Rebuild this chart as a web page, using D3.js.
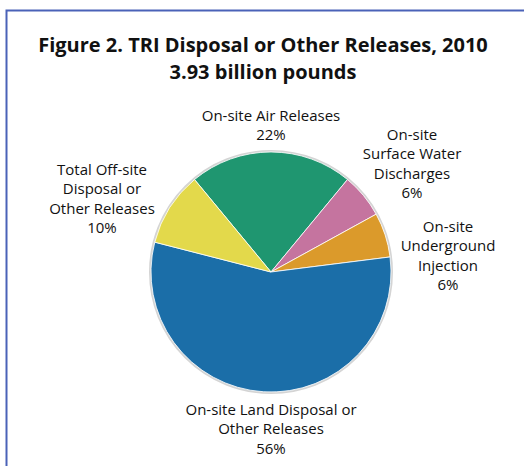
<!DOCTYPE html>
<html>
<head>
<meta charset="utf-8">
<script src="https://cdn.jsdelivr.net/npm/d3@7"></script>
<style>
  html, body { margin: 0; padding: 0; background: #fff; }
  svg { display: block; }
  text { font-family: "Open Sans", "Noto Sans", sans-serif; fill: #111; }
</style>
</head>
<body>
<svg id="chart" width="524" height="466"></svg>
<script>
// ---- data ----
const categories = [
  "On-site Air Releases",
  "On-site Surface Water Discharges",
  "On-site Underground Injection",
  "On-site Land Disposal or Other Releases",
  "Total Off-site Disposal or Other Releases"
];
const percents = [22, 6, 6, 56, 10];
const labelLines = [
  ["On-site Air Releases"],
  ["On-site", "Surface Water", "Discharges"],
  ["On-site", "Underground", "Injection"],
  ["On-site Land Disposal or", "Other Releases"],
  ["Total Off-site", "Disposal or", "Other Releases"]
];
const titleLines = ["Figure 2. TRI Disposal or Other Releases, 2010", "3.93 billion pounds"];

// ---- styling / layout ----
const colors = ["#1f9670", "#c5749f", "#db9a2b", "#1b6ea8", "#e3d94b"];
// label anchor (center x, baseline of first line) relative to pie center
const labelPos = [
  [0, -151], [141, -132], [177, -40], [0, 143], [-169, -97]
];
const lineH = 19.3;

const W = 524, H = 466;
const cx = 271, cy = 272, R = 120;
const svg = d3.select("#chart");

// frame
svg.append("path")
  .attr("d", `M6.5,${H + 5} L6.5,10.5 L${W + 5},10.5`)
  .attr("fill", "none").attr("stroke", "#4a62b8").attr("stroke-width", 2);

// title
svg.append("g").selectAll("text").data(titleLines).join("text")
  .attr("x", 263).attr("y", (d, i) => 52 + i * 27)
  .attr("text-anchor", "middle")
  .attr("font-weight", "bold")
  .attr("font-size", 20)
  .text(d => d);

// pie
const pie = d3.pie().sort(null).value(d => d)
  .startAngle(-percents[0] / 100 * Math.PI)
  .endAngle(2 * Math.PI - percents[0] / 100 * Math.PI);
const arcs = pie(percents);
const arc = d3.arc().innerRadius(0).outerRadius(R);

const g = svg.append("g").attr("transform", `translate(${cx},${cy})`);
g.append("circle").attr("r", R + 1).attr("fill", "none")
  .attr("stroke", "#d4d4d4").attr("stroke-width", 2);
g.selectAll("path.slice").data(arcs).join("path")
  .attr("class", "slice")
  .attr("d", arc)
  .attr("fill", (d, i) => colors[i])
  .attr("stroke", "#fff").attr("stroke-width", 0.8).attr("stroke-linejoin", "round");

// labels
const lg = g.append("g");
arcs.forEach((a, i) => {
  const lines = labelLines[i].concat([percents[i] + "%"]);
  const t = lg.append("text")
    .attr("text-anchor", "middle")
    .attr("font-size", 15)
    .attr("x", labelPos[i][0]).attr("y", labelPos[i][1]);
  lines.forEach((ln, j) => {
    t.append("tspan").attr("x", labelPos[i][0])
      .attr("y", labelPos[i][1] + j * lineH).text(ln);
  });
});
</script>
</body>
</html>
